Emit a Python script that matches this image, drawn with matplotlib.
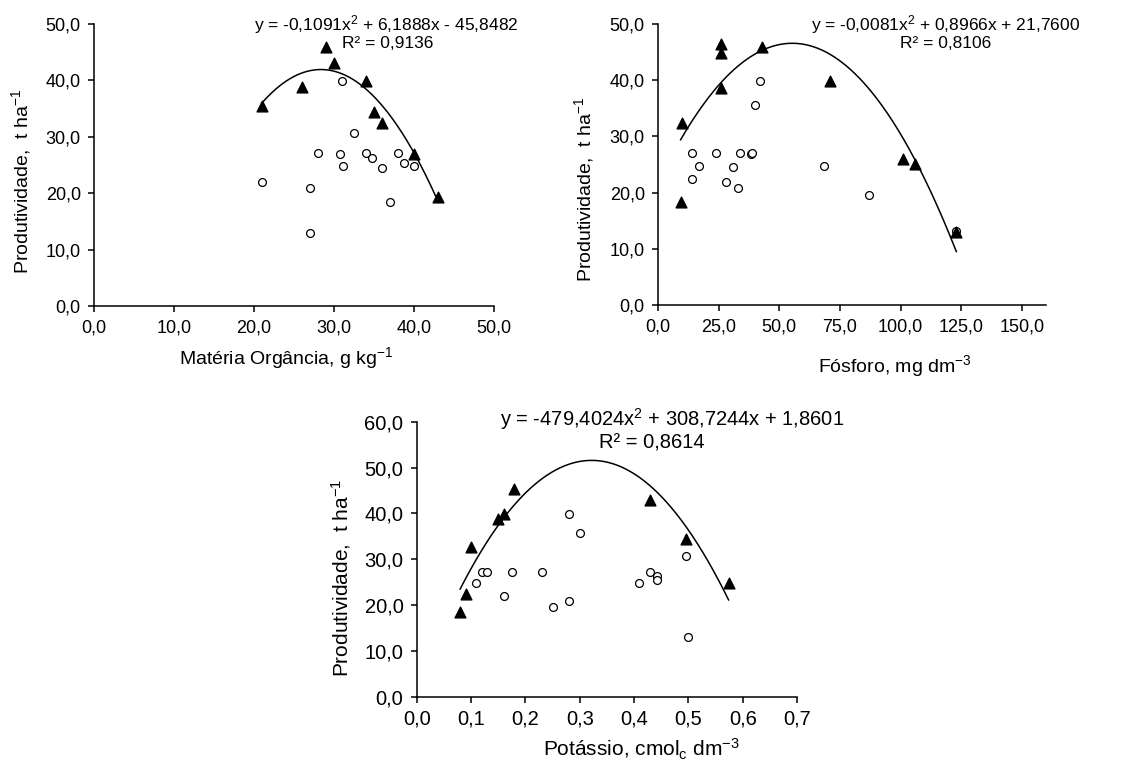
import numpy as np
import matplotlib
matplotlib.use("Agg")
import matplotlib.pyplot as plt
from matplotlib.ticker import FuncFormatter, MultipleLocator

plt.rcParams["font.family"] = ["Liberation Sans", "DejaVu Sans"]
plt.rcParams["mathtext.fontset"] = "custom"
plt.rcParams["mathtext.rm"] = "Liberation Sans"
plt.rcParams["mathtext.it"] = "Liberation Sans:italic"

# Matéria orgânica (g kg-1)
mo_tri_x = [21, 26, 29, 30, 34, 35, 36, 40, 43]
mo_tri_y = [35.5, 38.8, 45.9, 43.0, 39.8, 34.3, 32.5, 26.9, 19.4]
mo_circ_x = [21, 27, 27, 28, 31, 30.8, 31.1, 32.5, 34, 34.8, 36, 37, 38, 38.7, 40]
mo_circ_y = [21.9, 20.9, 12.9, 27.1, 39.8, 27.0, 24.8, 30.7, 27.1, 26.2, 24.5, 18.4, 27.1, 25.4, 24.8]
mo_coef = [-0.1091, 6.1888, -45.8482]

# Fósforo (mg dm-3)
p_tri_x = [9.3, 10, 26, 26, 26, 43, 71, 101, 106, 123]
p_tri_y = [18.4, 32.3, 46.4, 44.9, 38.7, 45.9, 39.8, 25.9, 25.1, 13.0]
p_circ_x = [14, 14, 17, 24, 28, 31, 33, 34, 38.3, 38.8, 40, 42, 68.3, 87, 123]
p_circ_y = [27.1, 22.4, 24.8, 27.1, 21.9, 24.5, 20.9, 27.1, 26.9, 27.1, 35.5, 39.9, 24.8, 19.5, 13.1]
p_coef = [-0.0081, 0.8966, 21.7600]

# Potássio (cmolc dm-3)
k_tri_x = [0.08, 0.09, 0.10, 0.15, 0.16, 0.18, 0.43, 0.495, 0.574]
k_tri_y = [18.4, 22.3, 32.6, 38.8, 39.9, 45.3, 42.9, 34.4, 24.7]
k_circ_x = [0.11, 0.12, 0.13, 0.16, 0.175, 0.23, 0.25, 0.28, 0.28, 0.30,
            0.41, 0.43, 0.443, 0.443, 0.495, 0.50]
k_circ_y = [24.7, 27.2, 27.2, 22.0, 27.2, 27.2, 19.6, 39.9, 20.9, 35.7,
            24.9, 27.1, 26.3, 25.5, 30.8, 13.1]
k_coef = [-479.4024, 308.7244, 1.8601]

virgula = FuncFormatter(lambda v, pos: f"{v:.1f}".replace(".", ","))
ylab = r"Produtividade,  t ha$\mathregular{^{-1}}$"


def painel(ax, cx, cy, tx, ty, coef, xmax, xstep, ymax, fs_tick):
    ax.scatter(cx, cy, s=32, marker="o", facecolor="white", edgecolor="black",
               linewidth=0.9, zorder=2)
    ax.scatter(tx, ty, s=60, marker="^", color="black", zorder=3)
    xs = np.linspace(min(tx + cx), max(tx + cx), 200)
    ax.plot(xs, np.polyval(coef, xs), color="black", lw=1.1, zorder=4)

    ax.set_xlim(0, xmax)
    ax.set_ylim(0, ymax)
    ax.xaxis.set_major_locator(MultipleLocator(xstep))
    ax.yaxis.set_major_locator(MultipleLocator(10))
    ax.xaxis.set_major_formatter(virgula)
    ax.yaxis.set_major_formatter(virgula)
    for s in ["top", "right"]:
        ax.spines[s].set_visible(False)
    for s in ["left", "bottom"]:
        ax.spines[s].set_linewidth(1.1)
    ax.tick_params(direction="out", length=4.5, width=1.1, labelsize=fs_tick, pad=5)


fig = plt.figure(figsize=(11.32, 7.6), dpi=100)

# Matéria orgânica
ax1 = fig.add_axes([0.0830, 0.5974, 0.3534, 0.3711])
painel(ax1, mo_circ_x, mo_circ_y, mo_tri_x, mo_tri_y, mo_coef, 50, 10, 50, 13)
ax1.text(0.73, 0.998, r"y = -0,1091x$\mathregular{^2}$ + 6,1888x - 45,8482",
         transform=ax1.transAxes, ha="center", va="center", fontsize=12.5)
ax1.text(0.735, 0.931, "R² = 0,9136", transform=ax1.transAxes,
         ha="center", va="center", fontsize=12.5)
ax1.set_xlabel(r"Matéria Orgância, g kg$\mathregular{^{-1}}$", fontsize=14, va="baseline")
ax1.xaxis.set_label_coords(0.48, -0.206)
ax1.set_ylabel(ylab, fontsize=14, va="center")
ax1.yaxis.set_label_coords(-0.1825, 0.44)

# Fósforo
ax2 = fig.add_axes([0.5813, 0.5987, 0.3428, 0.3697])
painel(ax2, p_circ_x, p_circ_y, p_tri_x, p_tri_y, p_coef, 160, 25, 50, 13)
ax2.text(0.74, 0.998, r"y = -0,0081x$\mathregular{^2}$ + 0,8966x + 21,7600",
         transform=ax2.transAxes, ha="center", va="center", fontsize=12.5)
ax2.text(0.74, 0.929, "R² = 0,8106", transform=ax2.transAxes,
         ha="center", va="center", fontsize=12.5)
ax2.set_xlabel(r"Fósforo, mg dm$\mathregular{^{-3}}$", fontsize=14, va="baseline")
ax2.xaxis.set_label_coords(0.611, -0.238)
ax2.set_ylabel(ylab, fontsize=14, va="center")
ax2.yaxis.set_label_coords(-0.19, 0.41)

# Potássio
ax3 = fig.add_axes([0.3681, 0.0833, 0.3360, 0.3618])
painel(ax3, k_circ_x, k_circ_y, k_tri_x, k_tri_y, k_coef, 0.7, 0.1, 60, 14.5)
ax3.text(0.671, 1.009, r"y = -479,4024x$\mathregular{^2}$ + 308,7244x + 1,8601",
         transform=ax3.transAxes, ha="center", va="center", fontsize=14.5)
ax3.text(0.619, 0.922, "R² = 0,8614", transform=ax3.transAxes,
         ha="center", va="center", fontsize=14.5)
ax3.set_xlabel(r"Potássio, cmol$\mathregular{_c}$ dm$\mathregular{^{-3}}$", fontsize=15, va="baseline")
ax3.xaxis.set_label_coords(0.592, -0.216)
ax3.set_ylabel(ylab, fontsize=15, va="center")
ax3.yaxis.set_label_coords(-0.199, 0.433)

fig.savefig("out.png", dpi=100)
